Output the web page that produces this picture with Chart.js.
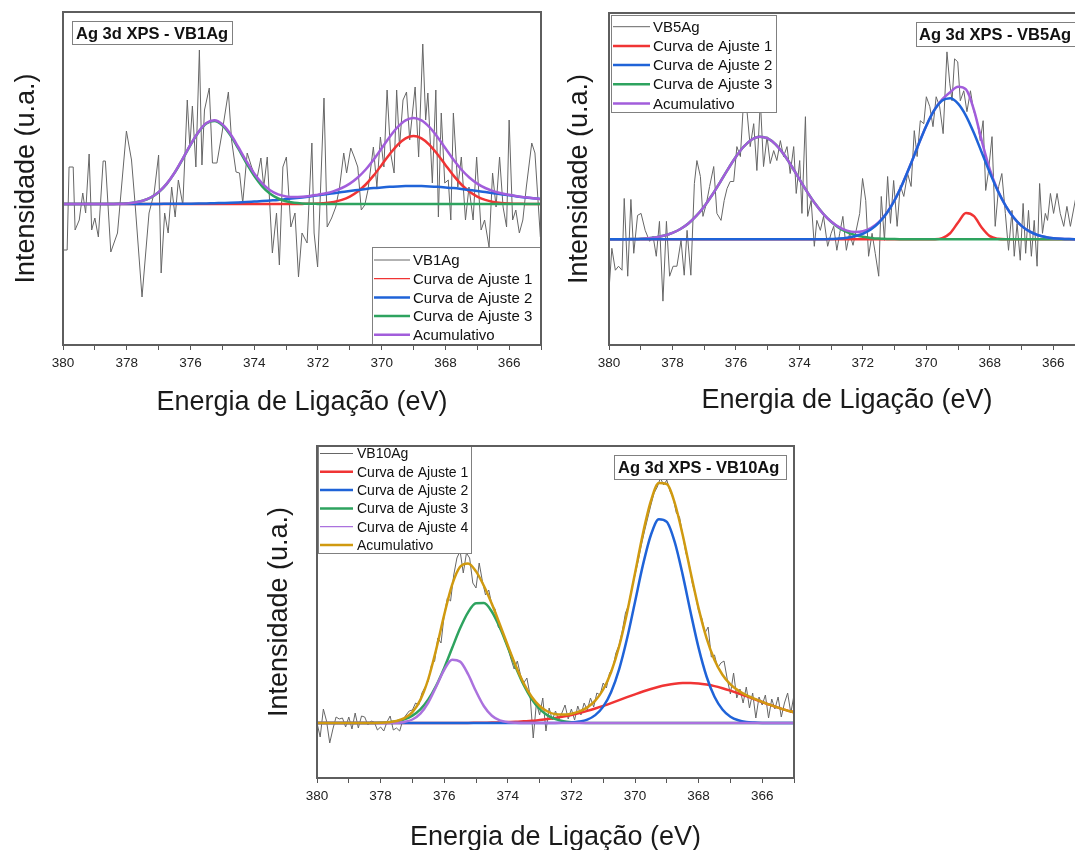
<!DOCTYPE html>
<html lang="pt">
<head>
<meta charset="UTF-8">
<title>Ag 3d XPS</title>
<script src="https://cdn.jsdelivr.net/npm/chart.js"></script>
<style>
  html, body { margin: 0; padding: 0; background: #fff; overflow: hidden; }
  body { width: 1075px; height: 850px; position: relative; }
  canvas { position: absolute; }
</style>
</head>
<body>
<canvas id="vb1" width="560" height="420" style="left:0;top:0"></canvas>
<canvas id="vb5" width="560" height="420" style="left:545px;top:0"></canvas>
<canvas id="vb10" width="560" height="430" style="left:250px;top:430px"></canvas>
<script>
// fit curves are sampled every 0.25 eV from 380 down to 365 (61 points)
const fitEnergy = [];
for (let i = 0; i <= 60; i++) fitEnergy.push(+(380 - i * 0.25).toFixed(2));

// ---- VB1Ag ----
const vb1Raw = [[380.00,-46],[379.87,-46],[379.81,37],[379.68,37],[379.62,-26],[379.49,-16],[379.38,11],[379.29,-9],[379.18,50],[379.10,-26],[379.00,-14],[378.89,-33],[378.74,43],[378.67,43],[378.50,-48],[378.29,-29],[378.01,73],[377.85,44],[377.74,1],[377.52,-93],[377.30,-9],[377.14,11],[377.00,49],[376.92,-69],[376.81,-9],[376.70,-29],[376.59,17],[376.48,-13],[376.38,24],[376.24,-1],[376.10,104],[376.02,57],[375.94,98],[375.83,37],[375.72,154],[375.64,39],[375.56,94],[375.41,116],[375.31,41],[375.17,41],[375.01,71],[374.81,112],[374.71,64],[374.57,32],[374.46,31],[374.36,1],[374.22,51],[374.08,37],[373.92,24],[373.79,46],[373.70,17],[373.59,47],[373.43,-49],[373.30,-9],[373.21,-61],[373.10,37],[372.99,47],[372.85,-23],[372.72,-9],[372.61,-73],[372.50,-29],[372.34,-39],[372.19,61],[372.12,-29],[372.01,-63],[371.81,106],[371.71,-23],[371.57,-14],[371.44,-3],[371.32,17],[371.19,51],[371.10,31],[370.97,56],[370.86,47],[370.75,37],[370.64,-6],[370.53,-1],[370.43,14],[370.26,57],[370.15,17],[370.04,67],[369.93,37],[369.83,114],[369.72,51],[369.61,31],[369.53,114],[369.44,57],[369.33,104],[369.22,112],[369.12,64],[368.95,117],[368.84,47],[368.71,160],[368.62,84],[368.55,111],[368.41,21],[368.30,114],[368.22,-13],[368.13,91],[368.02,21],[367.91,24],[367.83,-16],[367.75,91],[367.61,17],[367.50,47],[367.37,-16],[367.26,17],[367.13,-16],[367.02,47],[366.88,-26],[366.77,-16],[366.63,-43],[366.52,31],[366.41,-3],[366.30,47],[366.19,-3],[366.08,-23],[366.00,84],[365.89,-16],[365.79,-6],[365.68,-29],[365.57,-16],[365.46,17],[365.29,61],[365.19,51],[365.02,-33]];
const vb1Fit1 = [0,0,0,0,0,0,0,0,0,0, 0,0,0,0,0,0,0,0,0,0, 0,0,0,0,0,0,0,0,0,0,
  0.1,0.2,0.5,1.0,2.1,4.1,7.4,12.5,19.5,28.6, 39.1,49.8,59.2,65.7,68,65.7,59.2,49.8,39.1,28.6,
  19.5,12.5,7.4,4.1,2.1,1.0,0.5,0.2,0.1,0, 0];
const vb1Fit2 = [0,0,0,0,0,0,0,0,0,0, 0.1,0.1,0.1,0.15,0.2,0.25,0.3,0.4,0.6,0.8,
  1.0,1.2,1.5,1.9,2.4,2.9,3.5,4.1,4.9,5.7, 6.6,7.6,8.7,9.7,10.8,11.9,13.0,14.0,15.0,15.9,
  16.6,17.2,17.6,17.9,18,17.9,17.6,17.2,16.6,15.9, 15.0,14.0,13.0,11.9,10.8,9.7,8.7,7.6,6.6,5.7, 4.9];
const vb1Fit3 = [0,0,0,0,0,0,0.1,0.2,0.6,1.5, 3.2,6.4,11.8,19.9,31.1,44.6,59.0,71.7,80.4,83.0,
  78.8,69.0,55.5,41.2,28.1,17.7,10.2,5.5,2.7,1.2, 0.5,0.2,0.1,0,0,0,0,0,0,0,
  0,0,0,0,0,0,0,0,0,0, 0,0,0,0,0,0,0,0,0,0, 0];
const vb1Sum = [0,0,0,0,0,0,0.1,0.2,0.6,1.5, 3.3,6.5,11.9,20.1,31.3,44.9,59.3,72.1,81.0,83.8,
  79.8,70.2,57.0,43.1,30.5,20.6,13.7,9.6,7.6,6.9, 7.2,8.0,9.3,10.7,12.9,16.0,20.4,26.5,34.5,44.5,
  55.7,67.0,76.8,83.6,86.0,83.6,76.8,67.0,55.7,44.5, 34.5,26.5,20.4,16.0,12.9,10.7,9.2,7.8,6.7,5.7, 4.9];

// ---- VB5Ag ----
const vb5Raw = [[380.00,-51],[379.91,-9],[379.80,-31],[379.70,-27],[379.59,-31],[379.52,41],[379.41,-37],[379.31,40],[379.22,-14],[379.10,24],[378.99,26],[378.86,9],[378.72,-2],[378.61,3],[378.51,-17],[378.41,18],[378.30,-62],[378.19,18],[378.09,-37],[377.98,-27],[377.86,-27],[377.73,-1],[377.63,-36],[377.54,9],[377.42,-36],[377.31,56],[377.23,79],[377.12,63],[377.04,23],[376.93,36],[376.83,53],[376.70,73],[376.60,26],[376.47,19],[376.37,39],[376.28,51],[376.18,58],[376.07,58],[375.97,93],[375.86,83],[375.76,139],[375.65,128],[375.55,93],[375.44,116],[375.34,69],[375.23,139],[375.13,73],[375.02,103],[374.92,76],[374.81,89],[374.71,79],[374.60,99],[374.50,83],[374.39,93],[374.29,66],[374.18,93],[374.10,46],[373.99,79],[373.92,26],[373.81,123],[373.74,23],[373.63,39],[373.53,-7],[373.45,19],[373.34,9],[373.24,23],[373.11,-7],[373.00,6],[372.92,13],[372.82,-11],[372.73,6],[372.63,23],[372.52,-11],[372.42,6],[372.31,-6],[372.21,9],[372.10,26],[372.01,61],[371.91,39],[371.82,-17],[371.71,6],[371.61,-14],[371.50,-37],[371.42,43],[371.32,-1],[371.22,63],[371.13,16],[371.03,59],[370.92,13],[370.82,54],[370.71,43],[370.59,66],[370.48,53],[370.38,109],[370.29,83],[370.19,119],[370.08,116],[370.00,143],[369.89,133],[369.79,113],[369.69,143],[369.58,133],[369.47,106],[369.35,188],[369.26,156],[369.19,139],[369.11,181],[369.01,178],[368.93,139],[368.82,149],[368.72,128],[368.61,149],[368.51,129],[368.40,119],[368.30,99],[368.21,119],[368.13,49],[368.05,66],[367.93,103],[367.83,13],[367.72,53],[367.62,66],[367.51,26],[367.41,-11],[367.30,29],[367.23,-17],[367.14,16],[367.04,-21],[366.95,36],[366.87,-14],[366.78,29],[366.69,-17],[366.60,19],[366.51,-27],[366.43,56],[366.34,6],[366.25,26],[366.18,19],[366.09,46],[365.99,26],[365.88,46],[365.78,26],[365.67,13],[365.57,33],[365.46,13],[365.30,40],[365.15,15],[365.00,30]];
const vb5Fit1 = [0,0,0,0,0,0,0,0,0,0, 0,0,0,0,0,0,0,0,0,0, 0,0,0,0,0,0,0,0,0,0, 0,0,0,0,0,0,0,0,0,0,
  0,0.1,1.2,6.1,16.9,26.4,23.3,11.6,3.2,0.5, 0,0,0,0,0,0,0,0,0,0, 0];
const vb5Fit2 = [0,0,0,0,0,0,0,0,0,0, 0,0,0,0,0,0,0,0,0,0, 0,0,0,0,0,0,0,0,0.3,0.7,
  1.5,3.0,5.6,9.8,16.5,26.1,39.2,55.7,74.7,94.9, 114.0,129.5,139.2,141.5,136.1,123.9,106.6,86.8,66.9,48.7,
  33.6,21.9,13.5,7.9,4.3,2.3,1.1,0.5,0.2,0.1, 0];
const vb5Fit3 = [0,0.1,0.1,0.3,0.6,1.2,2.2,3.8,6.4,10.3, 15.9,23.5,33.0,44.4,57.2,70.4,82.8,93.1,100.1,103.0,
  101.2,95.2,85.5,73.5,60.4,47.4,35.6,25.6,17.6,11.5, 7.2,4.3,2.5,1.4,0.7,0.4,0.2,0.1,0,0,
  0,0,0,0,0,0,0,0,0,0, 0,0,0,0,0,0,0,0,0,0, 0];
const vb5Sum = [0,0.1,0.1,0.3,0.6,1.2,2.2,3.8,6.4,10.3, 15.9,23.5,33.0,44.4,57.2,70.4,82.8,93.1,100.1,103.0,
  101.2,95.2,85.5,73.5,60.4,47.4,35.6,25.6,17.9,12.2, 8.7,7.3,8.1,11.2,17.2,26.5,39.4,55.8,74.7,94.9,
  114.0,129.6,140.4,147.6,153.0,150.3,129.9,98.4,70.1,49.2, 33.6,21.9,13.5,7.9,4.3,2.3,1.1,0.5,0.2,0.1, 0];

// ---- VB10Ag ---- (raw sampled every 0.1 eV from 380 down to 365)
const vb10Raw = [0,-14,14,2,-20,-6,6,4,5,-4, 6,-6,10,-5,7,6,-2,2,1,-7, -4,-8,1,7,-7,-5,-8,3,8,12,
  13,20,18,30,36,42,58,62,85,80, 108,125,122,148,165,172,150,170,165,140, 135,160,142,128,133,118,114,96,92,83,
  75,64,54,62,48,40,45,28,-15,20, 8,25,-8,15,3,12,3,10,18,4, 14,3,17,8,20,13,25,16,30,28,
  40,35,50,55,70,78,92,110,118,135, 148,162,178,192,205,218,230,236,245,238, 243,232,225,210,206,188,170,160,140,128,
  112,105,90,96,66,68,55,60,62,44, 29,50,25,34,20,36,15,30,5,26, 18,28,5,24,14,26,6,20,30,10, 28];
const vb10Fit1 = [0,0,0,0,0,0,0,0,0,0, 0,0,0,0,0,0,0,0.1,0.1,0.1,
  0.2,0.3,0.4,0.6,0.9,1.2,1.7,2.2,3.0,3.9, 5.0,6.4,8.0,9.9,12.1,14.5,17.1,19.9,22.8,25.8,
  28.7,31.5,34.0,36.2,37.9,39.2,39.9,40.0,39.5,38.4, 36.9,34.8,32.4,29.7,26.8,23.9,21.0,18.1,15.4,12.9, 10.7];
const vb10Fit2 = [0,0,0,0,0,0,0,0,0,0, 0,0,0,0,0,0,0,0,0,0, 0,0,0,0,0,0,0,0,0,0,
  0,0.2,0.5,1.4,3.4,7.9,16.4,31.1,53.7,84.5, 121.1,158.1,188.0,203.8,201.1,180.8,148.1,110.5,75.1,46.5,
  26.2,13.5,6.3,2.7,1.0,0.4,0.1,0,0,0, 0];
const vb10Fit3 = [0,0,0,0,0,0,0,0.1,0.3,0.7, 1.7,3.7,7.4,13.7,23.5,37.4,55.0,75.0,94.7,110.7,
  119.7,119.9,111.2,95.4,75.8,55.8,38.0,24.0,14.0,7.6, 3.8,1.8,0.8,0.3,0.1,0,0,0,0,0,
  0,0,0,0,0,0,0,0,0,0, 0,0,0,0,0,0,0,0,0,0, 0];
const vb10Fit4 = [0,0,0,0,0,0,0,0,0,0.1, 0.3,1.1,3.5,9.4,20.5,36.5,53.1,63.2,61.4,48.8,
  31.7,16.8,7.3,2.6,0.8,0.2,0,0,0,0, 0,0,0,0,0,0,0,0,0,0,
  0,0,0,0,0,0,0,0,0,0, 0,0,0,0,0,0,0,0,0,0, 0];
const vb10Sum = [0,0,0,0,0,0,0,0.1,0.3,0.8, 2.0,4.8,10.9,23.1,44.0,73.9,108.1,138.3,156.2,159.6,
  151.6,137.0,118.9,98.6,77.5,57.2,39.7,26.2,17.0,11.5, 8.8,8.4,9.3,11.6,15.6,22.4,33.5,51.0,76.5,110.3,
  149.8,189.6,222.0,240.0,239.0,220.0,188.0,150.5,114.6,84.9, 63.1,48.3,38.7,32.4,27.8,24.3,21.1,18.1,15.4,12.9, 10.7];

const FONT = '"Liberation Sans", Arial, sans-serif';
const RAW = '#666666', RED = '#f03434', BLUE = '#1f63d8', GREEN = '#2ea35f', PURPLE = '#a25ddb', GOLD = '#d09a10';

const onGrid = ys => ys.map((y, i) => ({ x: fitEnergy[i], y }));
const fromPairs = ps => ps.map(([x, y]) => ({ x, y }));
const fromSteps = ys => ys.map((y, i) => ({ x: +(380 - i * 0.1).toFixed(1), y }));

function rawSet(label, data) {
  return { label, data, borderColor: RAW, borderWidth: 1, tension: 0, order: 9 };
}
function fitSet(label, data, color, order, legendWidth) {
  return { label, data, borderColor: color, borderWidth: 2.5, cubicInterpolationMode: 'monotone',
           order, legendWidth };
}

// title box, legend box and plot frame
const panelDecor = {
  id: 'panelDecor',
  afterDatasetsDraw(chart, args, o) {
    const ctx = chart.ctx;
    ctx.save();
    const t = o.title;
    ctx.fillStyle = '#fff';
    ctx.fillRect(t.x, t.y, t.w, t.h);
    ctx.strokeStyle = '#808080';
    ctx.lineWidth = 1;
    ctx.strokeRect(t.x + 0.5, t.y + 0.5, t.w - 1, t.h - 1);
    ctx.fillStyle = '#111';
    ctx.font = 'bold ' + t.size + 'px ' + FONT;
    ctx.textBaseline = 'middle';
    ctx.fillText(t.text, t.x + t.pad, t.y + t.h / 2 + 1);

    const L = o.legend;
    ctx.fillStyle = '#fff';
    ctx.fillRect(L.x, L.y, L.w, L.h);
    ctx.strokeStyle = '#808080';
    ctx.strokeRect(L.x + 0.5, L.y + 0.5, L.w - 1, L.h - 1);
    ctx.font = L.size + 'px ' + FONT;
    chart.data.datasets.forEach((ds, i) => {
      const cy = L.y + L.first + i * L.gap;
      ctx.strokeStyle = ds.borderColor;
      ctx.lineWidth = ds.legendWidth || ds.borderWidth;
      ctx.beginPath();
      ctx.moveTo(L.x + L.lineX, cy);
      ctx.lineTo(L.x + L.lineX + L.lineLen, cy);
      ctx.stroke();
      ctx.fillStyle = '#111';
      ctx.fillText(ds.label, L.x + L.textX, cy + 1);
    });
    ctx.restore();
  },
  afterDraw(chart) {
    const { ctx, chartArea: a } = chart;
    ctx.save();
    ctx.strokeStyle = '#5e5e5e';
    ctx.lineWidth = 2;
    ctx.strokeRect(a.left, a.top, a.right - a.left, a.bottom - a.top);
    ctx.restore();
  }
};

function makePanel(id, p) {
  new Chart(document.getElementById(id), {
    type: 'line',
    data: { datasets: p.datasets },
    options: {
      responsive: false,
      animation: false,
      devicePixelRatio: 1,
      layout: { padding: p.padding },
      elements: { point: { radius: 0 }, line: { borderJoinStyle: 'round' } },
      plugins: { legend: { display: false }, tooltip: { enabled: false }, panelDecor: p.decor },
      scales: {
        x: {
          type: 'linear', reverse: true, min: 365, max: 380,
          afterFit: s => { s.height = p.xHeight; },
          ticks: {
            stepSize: 1, autoSkip: false, maxRotation: 0, padding: 5, color: '#222',
            font: { family: FONT, size: 13.5 },
            callback: v => (v % 2 === 0 ? String(v) : '')
          },
          grid: { drawOnChartArea: false, drawTicks: true, tickLength: 5, color: '#555' },
          border: { color: '#5e5e5e', width: 2 },
          title: { display: true, text: 'Energia de Ligação (eV)', color: '#1a1a1a',
                   font: { family: FONT, size: 27 }, padding: { top: 0, bottom: p.xTitlePad } }
        },
        y: {
          min: p.yMin, max: p.yMax,
          afterFit: s => { s.width = p.yWidth; },
          ticks: { display: false },
          grid: { display: false },
          border: { display: false },
          title: { display: true, text: 'Intensidade (u.a.)', color: '#1a1a1a',
                   font: { family: FONT, size: 27 }, padding: { top: p.yTitlePad, bottom: 0 } }
        }
      }
    },
    plugins: [panelDecor]
  });
}

makePanel('vb1', {
  padding: { top: 12, right: 19, left: 0, bottom: 0 },
  yWidth: 63, xHeight: 75, xTitlePad: 1, yTitlePad: 10,
  yMin: -141, yMax: 192,
  datasets: [
    rawSet('VB1Ag', fromPairs(vb1Raw)),
    fitSet('Curva de Ajuste 1', onGrid(vb1Fit1), RED, 4, 1.2),
    fitSet('Curva de Ajuste 2', onGrid(vb1Fit2), BLUE, 3),
    fitSet('Curva de Ajuste 3', onGrid(vb1Fit3), GREEN, 2),
    fitSet('Acumulativo', onGrid(vb1Sum), PURPLE, 1)
  ],
  decor: {
    title: { text: 'Ag 3d XPS - VB1Ag', x: 72, y: 21, w: 161, h: 24, pad: 4, size: 16.5 },
    legend: { x: 372, y: 247, w: 169, h: 98, first: 13, gap: 18.7, lineX: 2, lineLen: 36, textX: 41, size: 15 }
  }
});

makePanel('vb5', {
  padding: { top: 13, right: 20, left: 0, bottom: 0 },
  yWidth: 64, xHeight: 75, xTitlePad: 3, yTitlePad: 18,
  yMin: -106, yMax: 227,
  datasets: [
    rawSet('VB5Ag', fromPairs(vb5Raw)),
    fitSet('Curva de Ajuste 1', onGrid(vb5Fit1), RED, 4),
    fitSet('Curva de Ajuste 2', onGrid(vb5Fit2), BLUE, 1),
    fitSet('Curva de Ajuste 3', onGrid(vb5Fit3), GREEN, 3),
    fitSet('Acumulativo', onGrid(vb5Sum), PURPLE, 2)
  ],
  decor: {
    title: { text: 'Ag 3d XPS - VB5Ag', x: 371, y: 22, w: 180, h: 25, pad: 3, size: 16.5 },
    legend: { x: 66, y: 15, w: 166, h: 98, first: 11.7, gap: 19.2, lineX: 2, lineLen: 37, textX: 42, size: 15 }
  }
});

makePanel('vb10', {
  padding: { top: 16, right: 16, left: 0, bottom: 0 },
  yWidth: 67, xHeight: 82, xTitlePad: 6, yTitlePad: 13,
  yMin: -55, yMax: 277,
  datasets: [
    rawSet('VB10Ag', fromSteps(vb10Raw)),
    fitSet('Curva de Ajuste 1', onGrid(vb10Fit1), RED, 5),
    fitSet('Curva de Ajuste 2', onGrid(vb10Fit2), BLUE, 3),
    fitSet('Curva de Ajuste 3', onGrid(vb10Fit3), GREEN, 4),
    fitSet('Curva de Ajuste 4', onGrid(vb10Fit4), '#ab72de', 2, 1.2),
    fitSet('Acumulativo', onGrid(vb10Sum), GOLD, 1)
  ],
  decor: {
    title: { text: 'Ag 3d XPS - VB10Ag', x: 364, y: 25, w: 173, h: 25, pad: 4, size: 16.5 },
    legend: { x: 68, y: 15, w: 154, h: 109, first: 8.5, gap: 18.3, lineX: 2, lineLen: 33, textX: 39, size: 14 }
  }
});
</script>
</body>
</html>
